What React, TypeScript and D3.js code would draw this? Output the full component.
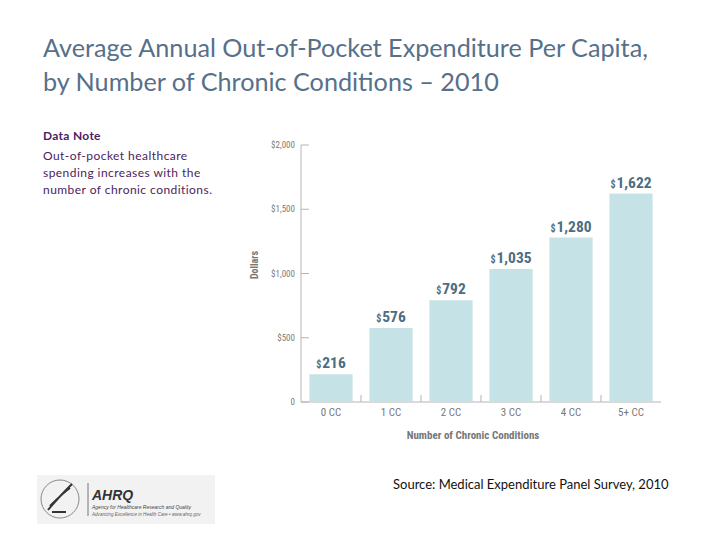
import React from "react";
import * as d3 from "d3";

const categories = ["0 CC", "1 CC", "2 CC", "3 CC", "4 CC", "5+ CC"];
const values = [216, 576, 792, 1035, 1280, 1622];
const yTicks = [0, 500, 1000, 1500, 2000];
const titleLines = [
  "Average Annual Out-of-Pocket Expenditure Per Capita,",
  "by Number of Chronic Conditions – 2010",
];
const noteLines = [
  "Out-of-pocket healthcare",
  "spending increases with the",
  "number of chronic conditions.",
];

const NARROW = "'Liberation Sans Narrow', 'Roboto Condensed', 'Liberation Sans', Arial, sans-serif";
const BODY = "Lato, 'Open Sans', sans-serif";

export default function App() {
  const x = d3.scaleBand<string>().domain(categories).range([301, 661]).paddingInner(0.28).paddingOuter(0.14);
  const y = d3.scaleLinear().domain([0, 2000]).range([402, 145]);
  const fmt = d3.format(",");
  const tickLabel = (v: number) => (v === 0 ? "0" : "$" + fmt(v));

  return (
    <svg width={720} height={540} style={{ position: "absolute", left: 0, top: 0, background: "#fff" }}>
      {titleLines.map((t, i) => (
        <text key={i} x={43} y={57 + i * 34} fontFamily={BODY} fontSize={25.2} fill="#56708a">
          {t}
        </text>
      ))}
      <text x={43} y={140} fontFamily={BODY} fontSize={12} fontWeight={700} fill="#4b2360" letterSpacing={0.3}>Data Note</text>
      {noteLines.map((t, i) => (
        <text key={i} x={43} y={160 + i * 17} fontFamily={BODY} fontSize={12} fill="#4b2360" letterSpacing={0.45}>
          {t}
        </text>
      ))}

      {/* axes */}
      <line x1={301} x2={301} y1={y(2000)} y2={y(0)} stroke="#b5b5b5" strokeWidth={1} />
      <line x1={301} x2={661} y1={y(0)} y2={y(0)} stroke="#b5b5b5" strokeWidth={1} />
      {yTicks.map((v) => (
        <g key={v}>
          <line x1={301} x2={309} y1={y(v)} y2={y(v)} stroke="#b5b5b5" />
          <text x={295} y={y(v) + 3} textAnchor="end" fontFamily={NARROW} fontSize={9} fill="#7a7a7a">
            {tickLabel(v)}
          </text>
        </g>
      ))}
      {categories.slice(1).map((c) => {
        const xx = (x(c) as number) - (x.step() - x.bandwidth()) / 2;
        return <line key={c} x1={xx} x2={xx} y1={y(0)} y2={y(0) - 7} stroke="#b5b5b5" />;
      })}
      <text transform={`translate(258,265) rotate(-90)`} textAnchor="middle" fontFamily={NARROW} fontSize={10} fontWeight={700} fill="#777">
        Dollars
      </text>

      {categories.map((c, i) => {
        const bx = x(c) as number;
        const cx = bx + x.bandwidth() / 2;
        return (
          <g key={c}>
            <rect x={bx} y={y(values[i])} width={x.bandwidth()} height={y(0) - y(values[i])} fill="#c5e3e7" />
            <text x={cx} y={y(values[i]) - 6} textAnchor="middle" fontFamily={NARROW} fontWeight={700} fill="#4c6e7f">
              <tspan fontSize={10}>$</tspan>
              <tspan fontSize={15.5} dx={1}>{fmt(values[i])}</tspan>
            </text>
            <text x={cx} y={416} textAnchor="middle" fontFamily={NARROW} fontSize={11} fill="#777">
              {c}
            </text>
          </g>
        );
      })}
      <text x={473} y={439} textAnchor="middle" fontFamily={NARROW} fontSize={11} fontWeight={700} fill="#777">
        Number of Chronic Conditions
      </text>

      <text x={393} y={489} fontFamily={BODY} fontSize={13} fill="#111">
        Source: Medical Expenditure Panel Survey, 2010
      </text>

      {/* logo */}
      <g>
        <rect x={37} y={475} width={178} height={49} fill="#f2f2f2" />
        <circle cx={60} cy={499} r={19} fill="none" stroke="#888" strokeWidth={1} />
        <path d="M48,510 C56,500 62,494 72,484 M50,506 C58,498 64,492 70,488 M52,512 L66,512" stroke="#333" strokeWidth={2} fill="none" />
        <line x1={88} x2={88} y1={483} y2={516} stroke="#777" />
        <text x={92} y={500} fontFamily="Liberation Sans, Arial" fontSize={14} fontWeight={700} fontStyle="italic" fill="#333">AHRQ</text>
        <text x={92} y={509} fontFamily="Liberation Sans, Arial" fontSize={5} fontStyle="italic" fill="#444">Agency for Healthcare Research and Quality</text>
        <text x={92} y={516} fontFamily="Liberation Sans, Arial" fontSize={4.6} fontStyle="italic" fill="#666">Advancing Excellence in Health Care • www.ahrq.gov</text>
      </g>
    </svg>
  );
}
